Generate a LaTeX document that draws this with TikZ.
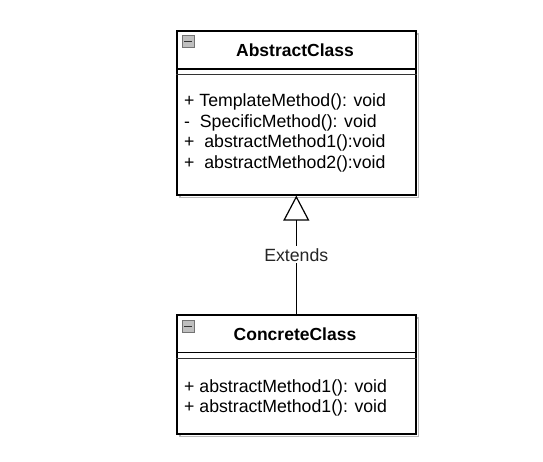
\documentclass[tikz,border=0pt]{standalone}
\usepackage{fontspec}
\setmainfont{Liberation Sans}
\usetikzlibrary{arrows.meta}
\begin{document}
\begin{tikzpicture}[x=1pt,y=-1pt,
  classbox/.style={draw=black, line width=1.6pt, fill=white, anchor=north west, inner sep=0pt},
  shadowbox/.style={draw=black!28, line width=1.6pt},
  sepline/.style={draw=black, line width=1.2pt},
  septhin/.style={draw=black!80, line width=0.7pt},
  icon/.style={draw=black!55, fill=black!25, line width=0.6pt, minimum size=12pt, inner sep=0pt, anchor=north west},
  title/.style={font=\fontsize{17.5}{21}\selectfont\bfseries, anchor=base, inner sep=0pt},
  member/.style={font=\fontsize{17.7}{21}\selectfont, anchor=base west, inner sep=0pt, text=black},
  lbl/.style={font=\fontsize{17.7}{21}\selectfont, fill=white, inner sep=2pt, text=black!85}
]
\useasboundingbox (0,0) rectangle (543,462);
% shadows
\draw[shadowbox] (180,34) rectangle (418.5,197.5);
\draw[shadowbox] (180,318) rectangle (418.5,436.5);
% boxes
\node[classbox, minimum width=239pt, minimum height=164pt] (abs) at (176,30) {};
\node[classbox, minimum width=239pt, minimum height=119pt] (conc) at (176,314) {};
% separators
\draw[sepline] (abs.west |- 0,69) -- (abs.east |- 0,69);
\draw[septhin] (abs.west |- 0,74) -- (abs.east |- 0,74);
\draw[sepline] (conc.west |- 0,352.5) -- (conc.east |- 0,352.5);
\draw[septhin] (conc.west |- 0,358) -- (conc.east |- 0,358);
% icons
\node[icon] (absicon) at (181.5,35.5) {};
\draw[black!80, line width=1.2pt] ([xshift=2.5pt]absicon.west) -- ([xshift=-2.5pt]absicon.east);
\node[icon] (concicon) at (181.5,320) {};
\draw[black!80, line width=1.2pt] ([xshift=2.5pt]concicon.west) -- ([xshift=-2.5pt]concicon.east);
% titles
\node[title] (abstitle) at (295,56.7) {AbstractClass};
\node[title] (conctitle) at (295,340.7) {ConcreteClass};
% members
\node[member] (m1) at (184,107) {+ TemplateMethod(): void};
\node[member] (m2) at (184,127.5) {-\ \ SpecificMethod(): void};
\node[member] (m3) at (184,148) {+\ \ abstractMethod1():void};
\node[member] (m4) at (184,168.5) {+\ \ abstractMethod2():void};
\node[member] (c1) at (184,392) {+ abstractMethod1(): void};
\node[member] (c2) at (184,412.5) {+ abstractMethod1(): void};
% inheritance
\draw[line width=1.2pt, -{Triangle[open, length=25pt, width=26pt, line width=1.2pt]}]
  (conc.north) -- node[lbl, pos=0.5] (ext) {Extends} (abs.south);
\end{tikzpicture}
\end{document}
